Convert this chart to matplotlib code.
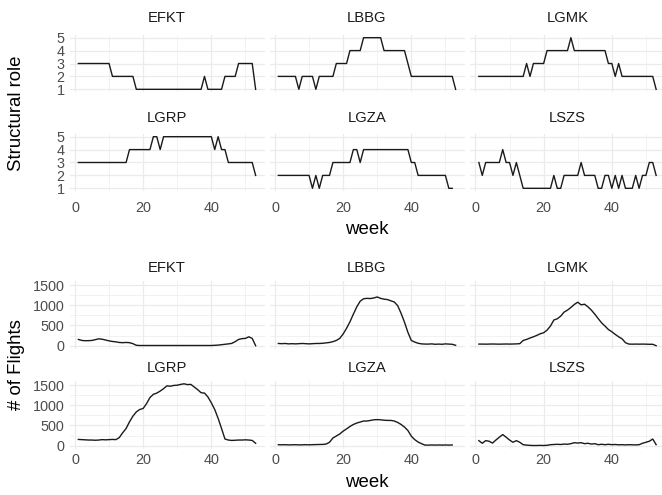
import matplotlib
matplotlib.use("Agg")
import matplotlib.pyplot as plt

plt.rcParams["font.family"] = ["Liberation Sans", "DejaVu Sans"]

W, H = 662, 495

# ---------------- data ----------------
airports = ["EFKT", "LBBG", "LGMK", "LGRP", "LGZA", "LSZS"]

efkt_role = [3, 3, 3, 3, 3, 3, 3, 3, 3, 3, 2, 2, 2, 2, 2, 2, 2,
             1, 1, 1, 1, 1, 1, 1, 1, 1, 1, 1, 1, 1, 1, 1, 1, 1, 1, 1, 1,
             2, 1, 1, 1, 1, 1, 2, 2, 2, 2, 3, 3, 3, 3, 3, 1]
lbbg_role = [2, 2, 2, 2, 2, 2, 1, 2, 2, 2, 2, 1, 2, 2, 2, 2, 2,
             3, 3, 3, 3, 4, 4, 4, 4, 5, 5, 5, 5, 5, 5,
             4, 4, 4, 4, 4, 4, 4, 3, 2, 2, 2, 2, 2, 2, 2, 2, 2, 2, 2, 2, 2, 1]
lgmk_role = [2, 2, 2, 2, 2, 2, 2, 2, 2, 2, 2, 2, 2, 2, 3, 2, 3, 3, 3, 3,
             4, 4, 4, 4, 4, 4, 4, 5, 4, 4, 4, 4, 4, 4, 4, 4, 4, 4,
             3, 3, 2, 3, 2, 2, 2, 2, 2, 2, 2, 2, 2, 2, 1]
lgrp_role = [3, 3, 3, 3, 3, 3, 3, 3, 3, 3, 3, 3, 3, 3, 3,
             4, 4, 4, 4, 4, 4, 4, 5, 5, 4,
             5, 5, 5, 5, 5, 5, 5, 5, 5, 5, 5, 5, 5, 5, 5,
             4, 5, 4, 4, 3, 3, 3, 3, 3, 3, 3, 3, 2]
lgza_role = [2, 2, 2, 2, 2, 2, 2, 2, 2, 2, 1, 2, 1, 2, 2, 2,
             3, 3, 3, 3, 3, 3, 4, 4, 3,
             4, 4, 4, 4, 4, 4, 4, 4, 4, 4, 4, 4, 4, 4,
             3, 3, 2, 2, 2, 2, 2, 2, 2, 2, 2, 1, 1]
lszs_role = [3, 2, 3, 3, 3, 3, 3, 4, 3, 3, 2, 3, 2,
             1, 1, 1, 1, 1, 1, 1, 1, 1, 2, 1, 1, 2, 2, 2, 2, 2, 3,
             2, 2, 2, 2, 1, 1, 2, 2, 1, 2, 1, 2, 1, 1, 1, 2, 1, 2, 2, 3, 3, 2]

efkt_flights = [155, 130, 123, 125, 130, 150, 170, 160, 140, 120, 105, 95, 80,
                75, 80, 75, 50, 10, 5, 5, 5, 5, 5, 5, 5, 5, 5, 5, 5, 5, 5,
                5, 5, 5, 5, 5, 5, 5, 5, 5, 10, 15, 25, 35, 45, 57, 100, 155,
                175, 180, 220, 180, 0]
lbbg_flights = [55, 50, 55, 45, 50, 45, 50, 55, 50, 45, 50, 55, 55, 60, 70, 80,
                100, 130, 180, 290, 430, 590, 780, 960, 1100, 1160, 1170, 1165,
                1180, 1205, 1170, 1150, 1140, 1110, 1080, 990, 800, 580, 330,
                130, 90, 60, 45, 40, 40, 45, 35, 40, 35, 45, 40, 35, 10]
lgmk_flights = [40, 40, 38, 40, 42, 40, 38, 40, 42, 40, 42, 45, 50, 130, 155,
                190, 220, 255, 295, 320, 385, 485, 635, 665, 730, 830, 880,
                945, 1020, 1075, 1010, 1025, 960, 880, 780, 670, 565, 485,
                400, 345, 280, 220, 170, 75, 40, 38, 40, 38, 40, 38, 35, 35, 0]
lgrp_flights = [155, 150, 145, 140, 140, 135, 140, 150, 145, 150, 155, 150, 200,
                320, 425, 590, 730, 835, 895, 920, 1040, 1190, 1270, 1300, 1350,
                1410, 1480, 1470, 1490, 1495, 1515, 1530, 1510, 1515, 1450,
                1385, 1310, 1300, 1205, 1060, 895, 675, 425, 165, 140, 130,
                135, 140, 140, 145, 140, 130, 60]
lgza_flights = [25, 22, 25, 20, 22, 25, 20, 22, 25, 22, 25, 28, 30, 32, 40, 85,
                190, 240, 290, 360, 415, 475, 525, 560, 585, 610, 610, 625, 640,
                645, 640, 630, 625, 625, 610, 575, 525, 460, 375, 235, 150, 90,
                50, 15, 15, 18, 15, 18, 15, 18, 15, 18]
lszs_flights = [125, 60, 125, 110, 65, 140, 210, 275, 210, 140, 85, 125, 85, 25,
                15, 8, 5, 5, 8, 5, 10, 25, 30, 35, 30, 40, 35, 50, 75, 65, 75,
                50, 60, 40, 50, 25, 35, 25, 35, 25, 30, 22, 25, 20, 25, 22, 20,
                25, 60, 85, 110, 165, 25]

roles = [efkt_role, lbbg_role, lgmk_role, lgrp_role, lgza_role, lszs_role]
flights = [efkt_flights, lbbg_flights, lgmk_flights, lgrp_flights,
           lgza_flights, lszs_flights]

# ---------------- layout (pixels) ----------------
COL_LEFT = [69.5, 269.5, 470.0]
COL_W = 195.0
GRID = "#EBEBEB"
TICK_C = "#4D4D4D"
STRIP_C = "#1A1A1A"

fig = plt.figure(figsize=(W / 100, H / 100), dpi=100)
fig.patch.set_facecolor("white")


def px_axes(left, top, w, h):
    return fig.add_axes([left / W, 1 - (top + h) / H, w / W, h / H])


def fig_text(x, y, s, **kw):
    fig.text(x / W, 1 - y / H, s, **kw)


def style(ax, ylim, yticks, yminor, show_x, show_y, xpad):
    ax.set_xlim(-1.6, 55.6)
    ax.set_ylim(*ylim)
    ax.set_xticks([0, 20, 40])
    ax.set_xticks([10, 30, 50], minor=True)
    ax.set_yticks(yticks)
    ax.set_yticks(yminor, minor=True)
    ax.grid(True, which="major", color=GRID, lw=0.9)
    ax.grid(True, which="minor", color=GRID, lw=0.45)
    ax.set_axisbelow(True)
    for sp in ax.spines.values():
        sp.set_visible(False)
    ax.tick_params(which="both", length=0, labelsize=10.4, labelcolor=TICK_C)
    ax.tick_params(axis="x", pad=xpad)
    ax.tick_params(axis="y", pad=3.5)
    if not show_x:
        ax.set_xticklabels([])
    if not show_y:
        ax.set_yticklabels([])


def block(data, row_tops, row_h, ylim, yticks, yminor, strip_y, xpad,
          week_y, ylabel, ylabel_y):
    for i, (name, vals) in enumerate(zip(airports, data)):
        r, c = divmod(i, 3)
        ax = px_axes(COL_LEFT[c], row_tops[r], COL_W, row_h)
        weeks = list(range(1, len(vals) + 1))
        ax.plot(weeks, vals, color="#1a1a1a", lw=1.0)
        style(ax, ylim, yticks, yminor, show_x=(r == 1), show_y=(c == 0),
              xpad=xpad)
        fig_text(COL_LEFT[c] + COL_W / 2, strip_y[r], name, ha="center",
                 va="center", fontsize=10.6, color=STRIP_C)
    fig_text(367, week_y, "week", ha="center", va="center", fontsize=13.4)
    fig_text(17, ylabel_y, ylabel, ha="center", va="center", fontsize=13.4,
             rotation=90)


block(roles, [35.1, 134.1], 56.8, (0.8, 5.2), [1, 2, 3, 4, 5], [],
      [18.3, 118.3], 7.4, 230, "Structural role", 113)
block(flights, [280.7, 380.7], 68.1, (-76.5, 1606.5), [0, 500, 1000, 1500],
      [250, 750, 1250], [268, 368], 2.8, 482.7, "# of Flights", 365)

fig.savefig("out.png", dpi=100, facecolor="white")
